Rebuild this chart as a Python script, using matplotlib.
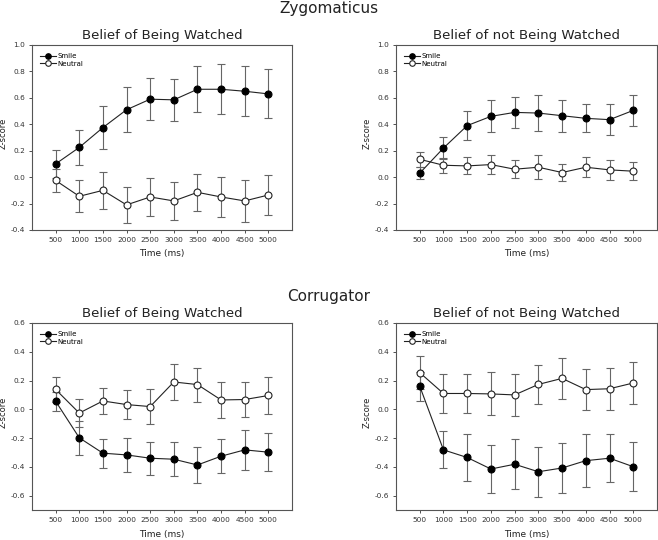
import matplotlib
matplotlib.use("Agg")
import matplotlib.pyplot as plt

times = [500, 1000, 1500, 2000, 2500, 3000, 3500, 4000, 4500, 5000]
time_ticks = times

# Zygomaticus - Belief of Being Watched
zyg_w_smile = [0.10, 0.225, 0.375, 0.51, 0.59, 0.585, 0.665, 0.665, 0.65, 0.63]
zyg_w_smile_err = [0.105, 0.13, 0.16, 0.17, 0.16, 0.16, 0.175, 0.19, 0.19, 0.185]
zyg_w_neutral = [-0.025, -0.145, -0.10, -0.21, -0.15, -0.18, -0.115, -0.15, -0.18, -0.135]
zyg_w_neutral_err = [0.09, 0.12, 0.14, 0.135, 0.145, 0.145, 0.14, 0.15, 0.16, 0.15]

# Zygomaticus - Belief of not Being Watched
zyg_n_smile = [0.03, 0.22, 0.39, 0.46, 0.49, 0.485, 0.465, 0.445, 0.435, 0.505]
zyg_n_smile_err = [0.045, 0.085, 0.11, 0.12, 0.12, 0.135, 0.12, 0.105, 0.115, 0.12]
zyg_n_neutral = [0.135, 0.09, 0.085, 0.095, 0.06, 0.075, 0.035, 0.075, 0.055, 0.045]
zyg_n_neutral_err = [0.055, 0.055, 0.065, 0.07, 0.07, 0.09, 0.065, 0.075, 0.075, 0.07]

# Corrugator - Belief of Being Watched
cor_w_smile = [0.056, -0.198, -0.305, -0.317, -0.34, -0.347, -0.387, -0.326, -0.282, -0.298]
cor_w_smile_err = [0.065, 0.12, 0.10, 0.12, 0.115, 0.12, 0.125, 0.12, 0.14, 0.13]
cor_w_neutral = [0.138, -0.026, 0.058, 0.033, 0.019, 0.19, 0.172, 0.065, 0.068, 0.096]
cor_w_neutral_err = [0.087, 0.097, 0.092, 0.10, 0.12, 0.125, 0.118, 0.125, 0.122, 0.13]

# Corrugator - Belief of not Being Watched
cor_n_smile = [0.161, -0.282, -0.335, -0.415, -0.382, -0.434, -0.408, -0.357, -0.340, -0.399]
cor_n_smile_err = [0.10, 0.128, 0.162, 0.165, 0.175, 0.175, 0.175, 0.185, 0.165, 0.172]
cor_n_neutral = [0.255, 0.11, 0.11, 0.107, 0.10, 0.173, 0.215, 0.137, 0.143, 0.183]
cor_n_neutral_err = [0.115, 0.135, 0.135, 0.15, 0.145, 0.135, 0.145, 0.14, 0.145, 0.145]

W, H = 658, 540
fig = plt.figure(figsize=(W / 100, H / 100), dpi=100)

def rect(x0, y0, x1, y1):
    return [x0 / W, 1 - y1 / H, (x1 - x0) / W, (y1 - y0) / H]

panels = [
    (rect(32, 45, 292, 230), "Belief of Being Watched", zyg_w_smile, zyg_w_smile_err,
     zyg_w_neutral, zyg_w_neutral_err, (-0.4, 1.0), [-0.4, -0.2, 0.0, 0.2, 0.4, 0.6, 0.8, 1.0]),
    (rect(396, 45, 657, 230), "Belief of not Being Watched", zyg_n_smile, zyg_n_smile_err,
     zyg_n_neutral, zyg_n_neutral_err, (-0.4, 1.0), [-0.4, -0.2, 0.0, 0.2, 0.4, 0.6, 0.8, 1.0]),
    (rect(32, 323, 292, 510), "Belief of Being Watched", cor_w_smile, cor_w_smile_err,
     cor_w_neutral, cor_w_neutral_err, (-0.7, 0.6), [-0.6, -0.4, -0.2, 0.0, 0.2, 0.4, 0.6]),
    (rect(396, 323, 657, 510), "Belief of not Being Watched", cor_n_smile, cor_n_smile_err,
     cor_n_neutral, cor_n_neutral_err, (-0.7, 0.6), [-0.6, -0.4, -0.2, 0.0, 0.2, 0.4, 0.6]),
]

spine_col = "#555555"
err_col = "#666666"
for pos, title, sm, sme, ne, nee, ylim, yticks in panels:
    ax = fig.add_axes(pos)
    ax.errorbar(times, ne, yerr=nee, fmt="none", ecolor=err_col, elinewidth=0.8,
                capsize=3, capthick=0.8, zorder=1)
    ax.errorbar(times, sm, yerr=sme, fmt="none", ecolor=err_col, elinewidth=0.8,
                capsize=3, capthick=0.8, zorder=1)
    ax.plot(times, sm, "-o", color="#222222", lw=0.8, ms=5, mfc="black", mec="black",
            mew=0.8, zorder=3, label="Smile")
    ax.plot(times, ne, "-o", color="#222222", lw=0.8, ms=5, mfc="white", mec="#222222",
            mew=0.8, zorder=3, label="Neutral")
    ax.set_xlim(0, 5500)
    ax.set_ylim(*ylim)
    ax.set_xticks(time_ticks)
    ax.set_xticklabels([str(t) for t in time_ticks])
    ax.set_yticks(yticks)
    ax.set_yticklabels([f"{v:.1f}" for v in yticks])
    ax.tick_params(labelsize=5.3, length=2.5, width=0.6, colors="#333333", pad=2.5)
    for s in ax.spines.values():
        s.set_color(spine_col)
        s.set_linewidth(0.8)
    ax.set_xlabel("Time (ms)", fontsize=6.5, color="#222222")
    ax.set_ylabel("Z-score", fontsize=6, color="#222222")
    ax.xaxis.set_label_coords(0.5, -0.105)
    ax.yaxis.set_label_coords(-0.093, 0.52)
    ax.set_title(title, fontsize=9.6, color="#222222", pad=4)
    ax.legend(loc="upper left", fontsize=5, frameon=False, handlelength=2.2,
              handletextpad=0.3, labelspacing=0.2, borderaxespad=0.8,
              markerscale=0.8)

fig.text(329 / W, 1 - 8.5 / H, "Zygomaticus", ha="center", va="center", fontsize=11, color="#222222")
fig.text(329 / W, 1 - 297 / H, "Corrugator", ha="center", va="center", fontsize=11, color="#222222")

fig.savefig("out.png", dpi=100, facecolor="white")
